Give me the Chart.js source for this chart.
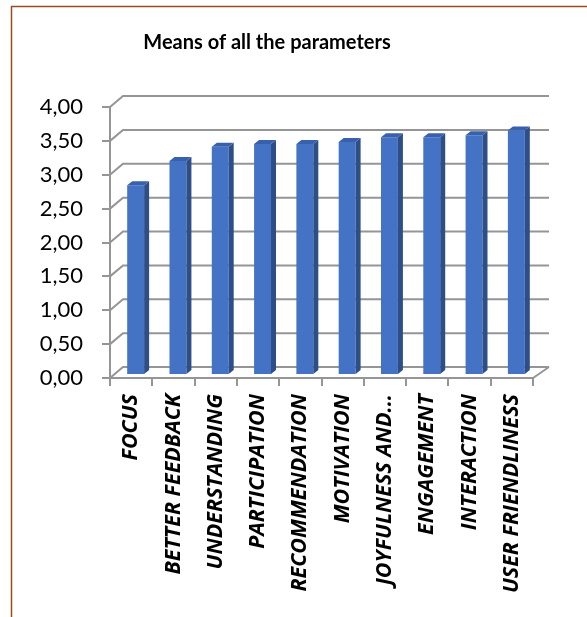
<!DOCTYPE html>
<html>
<head>
<meta charset="utf-8">
<script src="https://cdn.jsdelivr.net/npm/chart.js@4.4.0/dist/chart.umd.min.js"></script>
<style>
  html, body { margin: 0; padding: 0; background: #fff; }
  #wrap { width: 587px; height: 617px; position: relative; }
</style>
</head>
<body>
<div id="wrap"><canvas id="meansChart"></canvas></div>
<script>
// Means of all the parameters

const paramLabels = ['FOCUS', 'BETTER FEEDBACK', 'UNDERSTANDING', 'PARTICIPATION', 'RECOMMENDATION',
    'MOTIVATION', 'JOYFULNESS AND...', 'ENGAGEMENT', 'INTERACTION', 'USER FRIENDLINESS'];
const paramMeans = [2.80, 3.16, 3.37, 3.41, 3.41, 3.44, 3.51, 3.51, 3.54, 3.61];
const yTicks = [0, 0.5, 1, 1.5, 2, 2.5, 3, 3.5, 4];

const DX = 13, DY = -11;        // depth of the back wall
const BAR_DX = 5, BAR_DY = -4;  // depth of the bars

const fakeThreeD = {
    id: 'fakeThreeD',
    beforeDraw(chart) {
        const c = chart.ctx;
        c.save();
        c.fillStyle = '#fff';
        c.fillRect(0, 0, chart.width, chart.height);
        // frame
        c.strokeStyle = '#9a4b1f';
        c.lineWidth = 1.5;
        c.beginPath();
        c.moveTo(11.5, chart.height);
        c.lineTo(11.5, 6.5);
        c.lineTo(chart.width, 6.5);
        c.stroke();
        // title
        c.fillStyle = '#000';
        c.font = 'bold 20px Lato';
        c.textAlign = 'center';
        c.textBaseline = 'middle';
        c.fillText('Means of all the parameters', 267, 43);
        c.restore();
    },
    beforeDatasetsDraw(chart) {
        const c = chart.ctx;
        const y = chart.scales.y, x = chart.scales.x;
        const left = x.left, right = x.right;
        c.save();
        c.strokeStyle = '#959595';
        c.lineWidth = 2;
        yTicks.forEach(v => {
            const py = y.getPixelForValue(v);
            c.beginPath();
            c.moveTo(left, py);
            c.lineTo(left + DX, py + DY);
            c.lineTo(right + DX + 3, py + DY);
            c.stroke();
        });
        // floor right edge
        const p0 = y.getPixelForValue(0);
        c.beginPath();
        c.moveTo(right, p0);
        c.lineTo(right + DX + 3, p0 + DY);
        c.stroke();
        c.restore();
        c.save();
        c.translate(4.5, -3);
    },
    afterDatasetsDraw(chart) {
        const c = chart.ctx;
        chart.getDatasetMeta(0).data.forEach(bar => {
            const l = bar.x - bar.width / 2, r = bar.x + bar.width / 2;
            c.fillStyle = '#2e4e87';
            c.beginPath();
            c.moveTo(r, bar.y);
            c.lineTo(r + BAR_DX, bar.y + BAR_DY);
            c.lineTo(r + BAR_DX, bar.base + BAR_DY);
            c.lineTo(r, bar.base);
            c.closePath();
            c.fill();
            c.fillStyle = '#3861ad';
            c.beginPath();
            c.moveTo(l, bar.y);
            c.lineTo(l + BAR_DX, bar.y + BAR_DY);
            c.lineTo(r + BAR_DX, bar.y + BAR_DY);
            c.lineTo(r, bar.y);
            c.closePath();
            c.fill();
        });
        c.restore();
    }
};

new Chart(document.getElementById('meansChart'), {
    type: 'bar',
    data: {
        labels: paramLabels,
        datasets: [{
            data: paramMeans,
            backgroundColor: '#4472c4',
            borderWidth: 0,
            categoryPercentage: 1,
            barPercentage: 0.4
        }]
    },
    options: {
        responsive: true,
        maintainAspectRatio: false,
        animation: false,
        layout: { padding: { top: 107, right: 54, left: 0, bottom: 0 } },
        scales: {
            y: {
                min: 0, max: 4,
                afterFit: s => { s.width = 110; },
                afterBuildTicks: s => { s.ticks = yTicks.map(v => ({ value: v })); },
                grid: { drawOnChartArea: false, tickLength: 8, color: '#959595', lineWidth: 2 },
                border: { color: '#959595', width: 2 },
                ticks: {
                    color: '#000',
                    padding: 19,
                    font: { family: 'Lato', size: 22 },
                    callback: v => v.toFixed(2).replace('.', ',')
                }
            },
            x: {
                afterFit: s => { s.height = 617 - 378; },
                grid: { drawOnChartArea: false, tickLength: 8, color: '#959595', lineWidth: 2 },
                border: { color: '#959595', width: 2 },
                ticks: {
                    color: '#000',
                    minRotation: 90, maxRotation: 90,
                    padding: 8,
                    autoSkip: false,
                    font: { family: 'Open Sans', size: 21.5, weight: 'bold', style: 'italic' }
                }
            }
        },
        plugins: {
            legend: { display: false },
            tooltip: { enabled: false }
        }
    },
    plugins: [fakeThreeD]
});
</script>
</body>
</html>
